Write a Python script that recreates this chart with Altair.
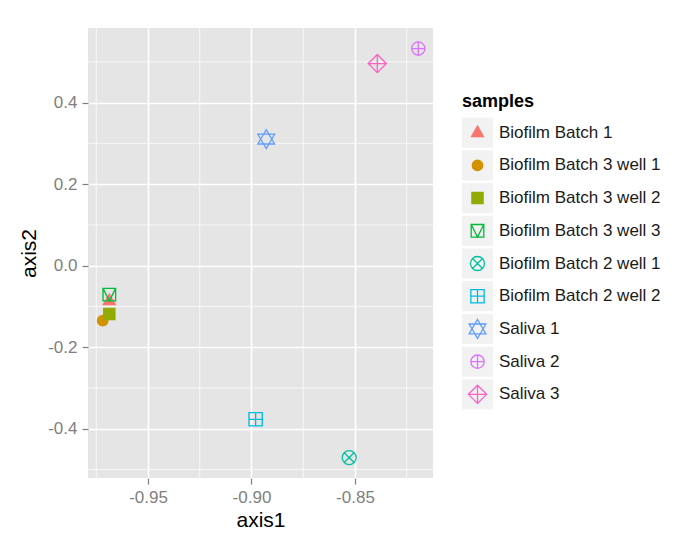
import altair as alt
import pandas as pd

# ---- data ----
samples = ["Biofilm Batch 1", "Biofilm Batch 3 well 1", "Biofilm Batch 3 well 2",
           "Biofilm Batch 3 well 3", "Biofilm Batch 2 well 1", "Biofilm Batch 2 well 2",
           "Saliva 1", "Saliva 2", "Saliva 3"]
axis1 = [-0.9687, -0.9719, -0.9687, -0.9687, -0.8528, -0.8980, -0.8929, -0.8194, -0.8392]
axis2 = [-0.086, -0.135, -0.1186, -0.0712, -0.471, -0.377, 0.3104, 0.5325, 0.4957]
colors = ["#F8766D", "#D39200", "#93AA00", "#00BA38", "#00C19F", "#00B9E3",
          "#619CFF", "#DB72FB", "#FF61C3"]
filled = [True, True, True, False, False, False, False, False, False]
x_ticks = [-0.95, -0.90, -0.85]
y_ticks = [-0.4, -0.2, 0.0, 0.2, 0.4]
x_minor = [-0.975, -0.925, -0.875, -0.825]
y_minor = [-0.5, -0.3, -0.1, 0.1, 0.3, 0.5]

# ---- styles ----
shape_paths = [
    "M0,-0.95L0.85,0.55L-0.85,0.55Z",
    "M0.75,0A0.75,0.75,0,1,1,-0.75,0A0.75,0.75,0,1,1,0.75,0Z",
    "M-0.8,-0.8L0.8,-0.8L0.8,0.8L-0.8,0.8Z",
    "M-0.9,-0.9L0.9,-0.9L0.9,0.9L-0.9,0.9Z M-0.9,-0.9L0,0.9L0.9,-0.9",
    "M1,0A1,1,0,1,1,-1,0A1,1,0,1,1,1,0Z M-0.707,-0.707L0.707,0.707 M-0.707,0.707L0.707,-0.707",
    "M-0.95,-0.95L0.95,-0.95L0.95,0.95L-0.95,0.95Z M0,-0.95L0,0.95 M-0.95,0L0.95,0",
    "M0,-1.35L1.2,0.7L-1.2,0.7Z M0,1.35L1.2,-0.7L-1.2,-0.7Z",
    "M0.95,0A0.95,0.95,0,1,1,-0.95,0A0.95,0.95,0,1,1,0.95,0Z M0,-0.95L0,0.95 M-0.95,0L0.95,0",
    "M0,-1.3L1.3,0L0,1.3L-1.3,0Z M0,-1.3L0,1.3 M-1.3,0L1.3,0",
]
fill_range = [c if f else "transparent" for c, f in zip(colors, filled)]
FONT = "Liberation Sans"
GREY = "#7F7F7F"

df = pd.DataFrame({"axis1": axis1, "axis2": axis2, "samples": samples})

xscale = alt.Scale(domain=[-0.979, -0.8123], nice=False, zero=False)
yscale = alt.Scale(domain=[-0.521, 0.583], nice=False, zero=False)
shape_enc = alt.Shape("samples:N", scale=alt.Scale(domain=samples, range=shape_paths), legend=None)
stroke_enc = alt.Stroke("samples:N", scale=alt.Scale(domain=samples, range=colors), legend=None)
fill_enc = alt.Fill("samples:N", scale=alt.Scale(domain=samples, range=fill_range), legend=None)

fix_minus = "replace(datum.label, '\u2212', '-')"
common_axis = dict(grid=True, gridColor="white", gridWidth=1.6, domain=False,
                   tickColor=GREY, tickSize=6, tickWidth=1.2,
                   labelColor=GREY, labelFont=FONT, labelFontSize=17,
                   titleFont=FONT, titleFontSize=21, titleFontWeight="normal",
                   titleColor="black", labelExpr=fix_minus)
xaxis = alt.Axis(values=x_ticks, format=".2f", title="axis1",
                 labelPadding=5, titlePadding=4, **common_axis)
yaxis = alt.Axis(values=y_ticks, format=".1f", title="axis2",
                 labelPadding=5, titlePadding=8, **common_axis)

points = alt.Chart(df).mark_point(filled=True, size=196, strokeWidth=1.3, opacity=1).encode(
    x=alt.X("axis1:Q", scale=xscale, axis=xaxis, title="axis1"),
    y=alt.Y("axis2:Q", scale=yscale, axis=yaxis, title="axis2"),
    shape=shape_enc, stroke=stroke_enc, fill=fill_enc,
)

vminor = alt.Chart(pd.DataFrame({"v": x_minor})).mark_rule(color="white", strokeWidth=0.7).encode(
    x=alt.X("v:Q", scale=xscale, axis=xaxis, title="axis1"))
hminor = alt.Chart(pd.DataFrame({"h": y_minor})).mark_rule(color="white", strokeWidth=0.7).encode(
    y=alt.Y("h:Q", scale=yscale, axis=yaxis, title="axis2"))

main = alt.layer(vminor, hminor, points).properties(
    width=345, height=450, view=alt.ViewBackground(fill="#E5E5E5", strokeWidth=0))

# ---- manual ggplot-style legend ----
leg_df = pd.DataFrame({"samples": samples})
leg_y = alt.Y("samples:N",
              scale=alt.Scale(domain=samples, range=[88.3, 382.7], paddingInner=0.08, paddingOuter=0.04),
              axis=None)
keys = alt.Chart(leg_df).mark_rect(fill="#F2F2F2").encode(
    y=leg_y, x=alt.value(0), x2=alt.value(31))
leg_pts = alt.Chart(leg_df).mark_point(filled=True, size=196, strokeWidth=1.3, opacity=1).encode(
    y=leg_y, x=alt.value(15.5), shape=shape_enc, stroke=stroke_enc, fill=fill_enc)
leg_txt = alt.Chart(leg_df).mark_text(align="left", baseline="middle", font=FONT,
                                      fontSize=17, color="#1A1A1A").encode(
    y=leg_y, x=alt.value(37), text="samples:N")
leg_title = alt.Chart(pd.DataFrame({"t": ["samples"]})).mark_text(
    align="left", baseline="middle", font=FONT, fontSize=18, fontWeight="bold", color="black").encode(
    x=alt.value(0), y=alt.value(74), text="t:N")
legend = alt.layer(keys, leg_pts, leg_txt, leg_title).properties(width=200, height=450)

chart = alt.hconcat(main, legend, spacing=28).properties(
    padding={"left": 10, "top": 19, "right": 0, "bottom": 0},
    background="white",
).configure_view(strokeWidth=0)

chart.save("out.html", embed_options={"renderer": "svg", "actions": False})
